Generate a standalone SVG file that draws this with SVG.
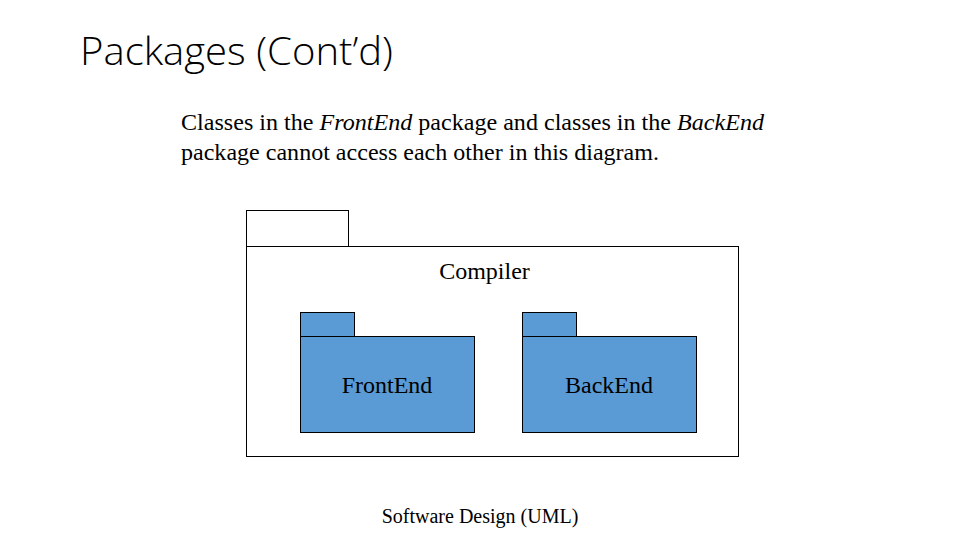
<svg xmlns="http://www.w3.org/2000/svg" width="960" height="540" viewBox="0 0 960 540">
<style>
.t{font-family:"Liberation Serif","Times New Roman",serif;fill:#000}
.pk{fill:#5B9BD5;stroke:#000;stroke-width:1}
.ol{fill:#fff;stroke:#000;stroke-width:1}
</style>
<rect width="960" height="540" fill="#fff"/>
<text x="80" y="65" font-family="'Open Sans','Noto Sans',sans-serif" font-weight="300" font-size="38" textLength="313" lengthAdjust="spacingAndGlyphs" fill="#000">Packages (Cont’d)</text>
<text class="t" x="181" y="130" font-size="23" textLength="583" lengthAdjust="spacingAndGlyphs">Classes in the <tspan font-style="italic">FrontEnd</tspan> package and classes in the <tspan font-style="italic">BackEnd</tspan></text>
<text class="t" x="181" y="160" font-size="23" textLength="478" lengthAdjust="spacingAndGlyphs">package cannot access each other in this diagram.</text>
<g id="compiler">
<rect class="ol" x="246.5" y="210.5" width="102" height="36"/>
<rect class="ol" x="246.5" y="246.5" width="492" height="210"/>
<text class="t" x="484.5" y="279" font-size="24" text-anchor="middle">Compiler</text>
</g>
<g id="frontend">
<rect class="pk" x="300.5" y="312.5" width="54" height="24"/>
<rect class="pk" x="300.5" y="336.5" width="174" height="96"/>
<text class="t" x="387" y="393" font-size="24" text-anchor="middle" fill="#0a1a3a">FrontEnd</text>
</g>
<g id="backend">
<rect class="pk" x="522.5" y="312.5" width="54" height="24"/>
<rect class="pk" x="522.5" y="336.5" width="174" height="96"/>
<text class="t" x="609" y="393" font-size="24" text-anchor="middle">BackEnd</text>
</g>
<g id="connectors"></g>
<text class="t" x="480" y="523" font-size="20" text-anchor="middle">Software Design (UML)</text>
</svg>
